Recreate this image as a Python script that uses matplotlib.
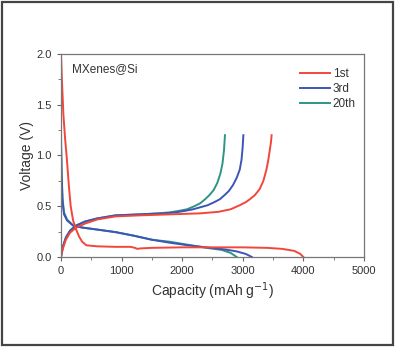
import matplotlib
matplotlib.use("Agg")
import matplotlib.pyplot as plt
from matplotlib.ticker import MultipleLocator
from matplotlib.patches import Rectangle

plt.rcParams['font.family'] = ['Liberation Sans', 'DejaVu Sans']

# ---------- data ----------
# discharge (lithiation) curves
dis_1st_cap = [0, 15, 40, 70, 95, 130, 160, 200, 250, 300, 350, 420, 600, 900, 1150, 1220, 1260, 1320, 1500, 2000, 2500, 3000, 3400, 3650, 3850, 3950, 4000]
dis_1st_v   = [2.0, 1.75, 1.4, 1.15, 0.98, 0.7, 0.5, 0.36, 0.27, 0.2, 0.15, 0.115, 0.105, 0.10, 0.10, 0.09, 0.08, 0.085, 0.09, 0.095, 0.095, 0.095, 0.09, 0.08, 0.06, 0.03, 0.0]

dis_3rd_cap = [0, 10, 25, 50, 100, 200, 350, 600, 900, 1200, 1500, 1800, 2100, 2400, 2700, 2900, 3050, 3150]
dis_3rd_v   = [1.1, 0.8, 0.55, 0.42, 0.36, 0.31, 0.29, 0.27, 0.245, 0.21, 0.17, 0.14, 0.115, 0.095, 0.075, 0.055, 0.03, 0.0]

dis_20th_cap = [0, 10, 25, 50, 100, 200, 350, 600, 900, 1200, 1500, 1800, 2100, 2400, 2650, 2800, 2900]
dis_20th_v   = [1.2, 0.85, 0.58, 0.44, 0.37, 0.31, 0.29, 0.27, 0.245, 0.21, 0.17, 0.15, 0.12, 0.09, 0.07, 0.04, 0.0]

# charge (delithiation) curves
ch_1st_cap = [0, 30, 80, 150, 250, 400, 600, 900, 1300, 1800, 2300, 2600, 2800, 2950, 3050, 3120, 3200, 3280, 3340, 3390, 3420, 3445, 3465, 3476]
ch_1st_v   = [0.0, 0.08, 0.17, 0.24, 0.29, 0.33, 0.37, 0.40, 0.41, 0.42, 0.43, 0.445, 0.47, 0.51, 0.54, 0.57, 0.61, 0.67, 0.75, 0.86, 0.95, 1.05, 1.13, 1.2]

ch_3rd_cap = [0, 30, 80, 150, 250, 400, 600, 900, 1300, 1700, 1900, 2050, 2180, 2300, 2420, 2530, 2624, 2700, 2770, 2840, 2900, 2950, 2980, 2998, 3010]
ch_3rd_v   = [0.0, 0.1, 0.19, 0.26, 0.31, 0.35, 0.38, 0.41, 0.42, 0.43, 0.44, 0.455, 0.47, 0.49, 0.51, 0.54, 0.57, 0.61, 0.65, 0.71, 0.78, 0.86, 0.96, 1.08, 1.2]

ch_20th_cap = [0, 30, 80, 150, 250, 400, 600, 900, 1300, 1600, 1800, 1950, 2080, 2200, 2300, 2380, 2450, 2520, 2580, 2630, 2665, 2690, 2706]
ch_20th_v   = [0.0, 0.1, 0.19, 0.26, 0.31, 0.35, 0.38, 0.41, 0.42, 0.43, 0.44, 0.455, 0.47, 0.50, 0.53, 0.57, 0.61, 0.66, 0.73, 0.82, 0.92, 1.05, 1.2]

labels = ["1st", "3rd", "20th"]
colors = ["#f2463a", "#3d55b5", "#2e9488"]

fig = plt.figure(figsize=(3.95, 3.47), dpi=100)
ax = fig.add_axes([0.1544, 0.2594, 0.767, 0.585])

curves = [(dis_1st_cap, dis_1st_v, ch_1st_cap, ch_1st_v),
          (dis_3rd_cap, dis_3rd_v, ch_3rd_cap, ch_3rd_v),
          (dis_20th_cap, dis_20th_v, ch_20th_cap, ch_20th_v)]

# draw 20th first so red ends up on top like the original
for i in [2, 1, 0]:
    dc, dv, cc, cv = curves[i]
    ax.plot(dc, dv, color=colors[i], lw=1.4, label=labels[i])
    ax.plot(cc, cv, color=colors[i], lw=1.4)

ax.set_xlim(0, 5000)
ax.set_ylim(0, 2.0)
ax.xaxis.set_major_locator(MultipleLocator(1000))
ax.xaxis.set_minor_locator(MultipleLocator(500))
ax.yaxis.set_major_locator(MultipleLocator(0.5))
ax.yaxis.set_minor_locator(MultipleLocator(0.25))
ax.tick_params(which='both', direction='out', colors='#666666', labelcolor='#333333', labelsize=8)
ax.tick_params(which='major', length=3)
ax.tick_params(which='minor', length=2)
for s in ax.spines.values():
    s.set_color('#777777')
    s.set_linewidth(0.9)

ax.set_xlabel("Capacity (mAh g$^{-1}$)", fontsize=10, color='#333333', labelpad=3)
ax.set_ylabel("Voltage (V)", fontsize=10, color='#333333', labelpad=2)

ax.text(0.035, 0.955, "MXenes@Si", transform=ax.transAxes, fontsize=8.5, color='#333333', va='top')

handles, labs = ax.get_legend_handles_labels()
order = [labs.index(l) for l in labels]
ax.legend([handles[k] for k in order], labels, loc='upper right', frameon=False,
          fontsize=8.5, handlelength=2.6, handletextpad=0.2, labelspacing=0.25,
          borderaxespad=0.3, bbox_to_anchor=(1.0, 0.97), labelcolor='#333333')

# outer frame of the picture
fig.patches.append(Rectangle((0.006, 0.006), 0.988, 0.988, transform=fig.transFigure,
                             fill=False, edgecolor='#444444', lw=1.6))

fig.savefig("out.png", dpi=100)
